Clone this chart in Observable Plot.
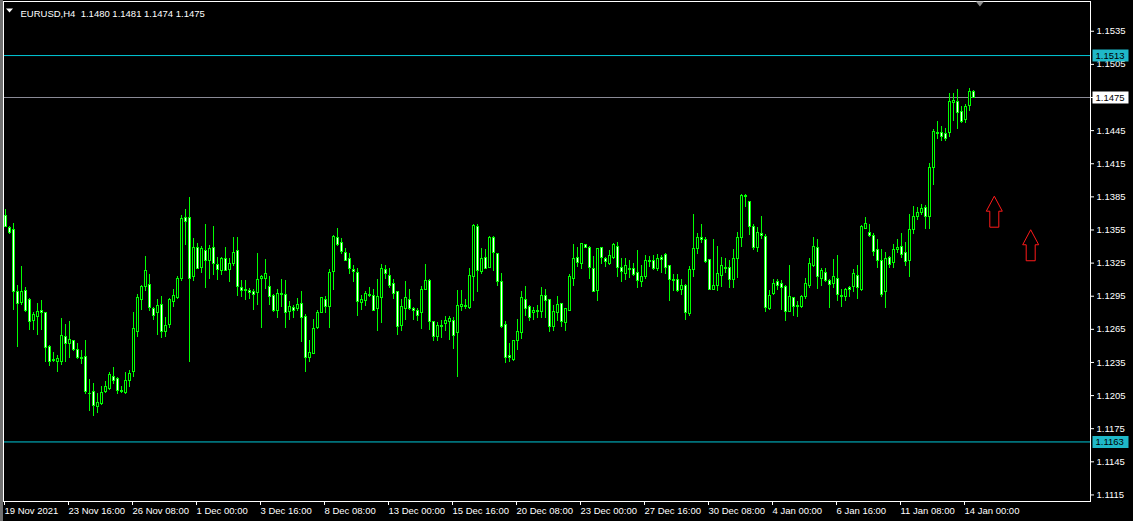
<!DOCTYPE html>
<html><head><meta charset="utf-8">
<script src="https://cdn.jsdelivr.net/npm/d3@7"></script>
<script src="https://cdn.jsdelivr.net/npm/@observablehq/plot@0.6"></script>
<style>html,body{margin:0;padding:0;background:#000;overflow:hidden}</style>
</head><body><div id="chart"></div>
<script>
const instrument = "EURUSD", timeframe = "H4";

const open = [1.1368,1.1357,1.1355,1.1299,1.1289,1.1300,1.1292,1.1273,1.1276,1.1282,
1.1280,1.1249,1.1237,1.1235,1.1235,1.1258,1.1252,1.1254,1.1246,1.1239,
1.1240,1.1207,1.1208,1.1195,1.1197,1.1208,1.1211,1.1222,1.1220,1.1209,
1.1207,1.1218,1.1226,1.1263,1.1292,1.1303,1.1305,1.1283,1.1280,1.1287,
1.1263,1.1269,1.1290,1.1293,1.1311,1.1366,1.1366,1.1312,1.1339,1.1321,
1.1336,1.1327,1.1339,1.1323,1.1318,1.1329,1.1319,1.1324,1.1336,1.1302,
1.1300,1.1300,1.1299,1.1298,1.1311,1.1311,1.1303,1.1295,1.1282,1.1297,
1.1296,1.1281,1.1284,1.1283,1.1288,1.1276,1.1239,1.1243,1.1266,1.1280,
1.1292,1.1285,1.1317,1.1348,1.1343,1.1334,1.1329,1.1319,1.1316,1.1289,
1.1291,1.1295,1.1295,1.1283,1.1293,1.1319,1.1313,1.1306,1.1299,1.1268,
1.1283,1.1292,1.1283,1.1282,1.1280,1.1301,1.1309,1.1272,1.1258,1.1268,
1.1270,1.1272,1.1273,1.1262,1.1285,1.1286,1.1284,1.1312,1.1358,1.1317,
1.1330,1.1321,1.1348,1.1333,1.1308,1.1269,1.1241,1.1237,1.1254,1.1262,
1.1292,1.1285,1.1280,1.1282,1.1281,1.1295,1.1292,1.1267,1.1280,1.1288,
1.1271,1.1282,1.1311,1.1330,1.1324,1.1341,1.1339,1.1320,1.1300,1.1339,
1.1329,1.1324,1.1330,1.1340,1.1321,1.1315,1.1320,1.1320,1.1316,1.1308,
1.1312,1.1326,1.1327,1.1320,1.1330,1.1332,1.1322,1.1310,1.1310,1.1301,
1.1304,1.1279,1.1319,1.1338,1.1348,1.1346,1.1328,1.1301,1.1304,1.1313,
1.1321,1.1321,1.1310,1.1329,1.1348,1.1386,1.1380,1.1358,1.1339,1.1351,
1.1349,1.1283,1.1297,1.1308,1.1306,1.1303,1.1281,1.1293,1.1286,1.1285,
1.1294,1.1304,1.1322,1.1339,1.1311,1.1316,1.1309,1.1306,1.1311,1.1295,
1.1294,1.1302,1.1303,1.1313,1.1301,1.1356,1.1352,1.1350,1.1337,1.1327,
1.1299,1.1330,1.1325,1.1337,1.1340,1.1334,1.1327,1.1355,1.1367,1.1370,
1.1375,1.1367,1.1411,1.1442,1.1443,1.1442,1.1443,1.1470,1.1471,1.1462,
1.1455,1.1467,1.1480];

const high = [1.1374,1.1358,1.1361,1.1305,1.1322,1.1303,1.1293,1.1280,1.1288,1.1291,
1.1280,1.1250,1.1244,1.1241,1.1275,1.1269,1.1272,1.1254,1.1252,1.1246,
1.1255,1.1220,1.1216,1.1207,1.1213,1.1218,1.1226,1.1230,1.1221,1.1213,
1.1226,1.1228,1.1280,1.1297,1.1305,1.1331,1.1315,1.1285,1.1292,1.1295,
1.1276,1.1293,1.1301,1.1313,1.1368,1.1374,1.1384,1.1347,1.1343,1.1340,
1.1360,1.1341,1.1358,1.1330,1.1330,1.1339,1.1329,1.1348,1.1348,1.1309,
1.1309,1.1302,1.1301,1.1334,1.1314,1.1328,1.1313,1.1297,1.1301,1.1310,
1.1309,1.1290,1.1287,1.1293,1.1299,1.1278,1.1255,1.1274,1.1282,1.1294,
1.1295,1.1319,1.1350,1.1356,1.1347,1.1338,1.1334,1.1323,1.1320,1.1296,
1.1299,1.1303,1.1301,1.1310,1.1324,1.1323,1.1320,1.1310,1.1299,1.1292,
1.1308,1.1301,1.1285,1.1284,1.1304,1.1324,1.1310,1.1272,1.1271,1.1273,
1.1277,1.1277,1.1276,1.1300,1.1300,1.1292,1.1320,1.1360,1.1360,1.1338,
1.1337,1.1349,1.1349,1.1334,1.1316,1.1272,1.1252,1.1255,1.1274,1.1299,
1.1304,1.1287,1.1285,1.1287,1.1303,1.1301,1.1292,1.1287,1.1295,1.1288,
1.1284,1.1315,1.1342,1.1339,1.1342,1.1342,1.1340,1.1331,1.1338,1.1339,
1.1330,1.1336,1.1343,1.1344,1.1329,1.1329,1.1327,1.1325,1.1336,1.1323,
1.1332,1.1331,1.1332,1.1333,1.1332,1.1334,1.1323,1.1315,1.1315,1.1310,
1.1306,1.1322,1.1369,1.1352,1.1360,1.1348,1.1328,1.1346,1.1340,1.1330,
1.1329,1.1327,1.1337,1.1353,1.1387,1.1387,1.1381,1.1360,1.1357,1.1367,
1.1351,1.1300,1.1310,1.1310,1.1309,1.1305,1.1323,1.1294,1.1290,1.1296,
1.1311,1.1329,1.1348,1.1346,1.1320,1.1320,1.1310,1.1328,1.1332,1.1301,
1.1302,1.1304,1.1319,1.1323,1.1359,1.1366,1.1360,1.1352,1.1346,1.1337,
1.1335,1.1331,1.1342,1.1346,1.1352,1.1344,1.1369,1.1376,1.1375,1.1378,
1.1377,1.1415,1.1446,1.1453,1.1449,1.1447,1.1479,1.1479,1.1482,1.1467,
1.1469,1.1483,1.1481];

const low = [1.1357,1.1351,1.1282,1.1249,1.1287,1.1280,1.1264,1.1264,1.1259,1.1264,
1.1235,1.1231,1.1235,1.1226,1.1232,1.1235,1.1239,1.1245,1.1238,1.1233,
1.1206,1.1191,1.1186,1.1189,1.1196,1.1207,1.1210,1.1215,1.1206,1.1207,
1.1206,1.1212,1.1221,1.1258,1.1282,1.1299,1.1281,1.1273,1.1259,1.1257,
1.1258,1.1266,1.1285,1.1292,1.1308,1.1341,1.1235,1.1308,1.1319,1.1316,
1.1302,1.1310,1.1314,1.1309,1.1314,1.1317,1.1307,1.1322,1.1295,1.1294,
1.1291,1.1292,1.1282,1.1287,1.1266,1.1301,1.1287,1.1280,1.1275,1.1285,
1.1266,1.1273,1.1275,1.1281,1.1253,1.1226,1.1235,1.1242,1.1265,1.1279,
1.1279,1.1266,1.1300,1.1340,1.1333,1.1326,1.1315,1.1307,1.1277,1.1282,
1.1286,1.1294,1.1281,1.1263,1.1270,1.1310,1.1302,1.1292,1.1259,1.1263,
1.1273,1.1282,1.1273,1.1272,1.1265,1.1300,1.1264,1.1254,1.1254,1.1257,
1.1263,1.1255,1.1247,1.1221,1.1281,1.1283,1.1283,1.1290,1.1298,1.1315,
1.1320,1.1320,1.1317,1.1304,1.1266,1.1234,1.1235,1.1236,1.1246,1.1256,
1.1277,1.1272,1.1273,1.1275,1.1275,1.1275,1.1262,1.1263,1.1272,1.1267,
1.1263,1.1281,1.1304,1.1321,1.1319,1.1338,1.1310,1.1298,1.1290,1.1324,
1.1321,1.1323,1.1328,1.1312,1.1307,1.1309,1.1311,1.1313,1.1302,1.1303,
1.1310,1.1321,1.1318,1.1317,1.1316,1.1315,1.1290,1.1299,1.1298,1.1296,
1.1273,1.1277,1.1312,1.1333,1.1343,1.1325,1.1300,1.1300,1.1299,1.1303,
1.1316,1.1302,1.1302,1.1311,1.1339,1.1375,1.1350,1.1336,1.1335,1.1346,
1.1280,1.1282,1.1296,1.1300,1.1282,1.1272,1.1280,1.1277,1.1276,1.1284,
1.1292,1.1302,1.1321,1.1301,1.1304,1.1307,1.1284,1.1302,1.1290,1.1285,
1.1290,1.1294,1.1298,1.1292,1.1299,1.1355,1.1348,1.1331,1.1320,1.1294,
1.1284,1.1320,1.1320,1.1334,1.1329,1.1322,1.1312,1.1351,1.1364,1.1368,
1.1355,1.1355,1.1395,1.1437,1.1435,1.1435,1.1439,1.1453,1.1446,1.1451,
1.1451,1.1462,1.1474];

const close = [1.1358,1.1352,1.1299,1.1288,1.1299,1.1282,1.1272,1.1278,1.1281,1.1280,
1.1248,1.1235,1.1236,1.1238,1.1259,1.1252,1.1255,1.1246,1.1239,1.1238,
1.1208,1.1207,1.1196,1.1198,1.1207,1.1213,1.1224,1.1218,1.1209,1.1208,
1.1218,1.1225,1.1265,1.1293,1.1303,1.1318,1.1284,1.1277,1.1286,1.1263,
1.1268,1.1292,1.1295,1.1311,1.1365,1.1362,1.1311,1.1339,1.1320,1.1338,
1.1327,1.1338,1.1324,1.1319,1.1329,1.1318,1.1324,1.1334,1.1303,1.1300,
1.1301,1.1298,1.1296,1.1310,1.1312,1.1315,1.1294,1.1282,1.1297,1.1296,
1.1280,1.1285,1.1282,1.1287,1.1275,1.1239,1.1244,1.1265,1.1280,1.1293,
1.1285,1.1316,1.1349,1.1341,1.1335,1.1327,1.1320,1.1317,1.1290,1.1292,
1.1297,1.1296,1.1282,1.1294,1.1320,1.1315,1.1304,1.1297,1.1267,1.1285,
1.1293,1.1283,1.1282,1.1277,1.1301,1.1309,1.1272,1.1258,1.1268,1.1267,
1.1273,1.1274,1.1259,1.1286,1.1287,1.1285,1.1313,1.1359,1.1318,1.1329,
1.1320,1.1348,1.1334,1.1308,1.1267,1.1239,1.1239,1.1254,1.1263,1.1293,
1.1283,1.1275,1.1282,1.1281,1.1295,1.1291,1.1267,1.1281,1.1287,1.1272,
1.1283,1.1312,1.1329,1.1325,1.1342,1.1339,1.1321,1.1299,1.1338,1.1330,
1.1326,1.1331,1.1341,1.1321,1.1317,1.1322,1.1319,1.1314,1.1309,1.1312,
1.1327,1.1327,1.1320,1.1329,1.1328,1.1321,1.1310,1.1309,1.1300,1.1304,
1.1280,1.1319,1.1338,1.1348,1.1346,1.1326,1.1301,1.1304,1.1315,1.1322,
1.1320,1.1310,1.1329,1.1348,1.1386,1.1385,1.1358,1.1339,1.1352,1.1350,
1.1284,1.1295,1.1306,1.1304,1.1302,1.1281,1.1294,1.1285,1.1285,1.1294,
1.1306,1.1324,1.1340,1.1312,1.1318,1.1309,1.1305,1.1312,1.1296,1.1294,
1.1301,1.1301,1.1315,1.1302,1.1358,1.1360,1.1350,1.1335,1.1327,1.1296,
1.1329,1.1323,1.1337,1.1339,1.1332,1.1326,1.1355,1.1367,1.1370,1.1374,
1.1367,1.1411,1.1444,1.1443,1.1439,1.1437,1.1471,1.1472,1.1461,1.1453,
1.1466,1.1480,1.1475];

const tickBars = [0,16,32,48,64,80,96,112,128,144,160,176,192,208,224,240];
const tickLabels = ["19 Nov 2021","23 Nov 16:00","26 Nov 08:00","1 Dec 00:00","3 Dec 16:00",
  "8 Dec 08:00","13 Dec 00:00","15 Dec 16:00","20 Dec 08:00","23 Dec 00:00","27 Dec 16:00",
  "30 Dec 08:00","4 Jan 00:00","6 Jan 16:00","11 Jan 08:00","14 Jan 00:00"];
const priceTicks = [1.1535,1.1505,1.1475,1.1445,1.1415,1.1385,1.1355,1.1325,1.1295,1.1265,1.1235,1.1205,1.1175,1.1145,1.1115];
const levelPrices = [1.1513, 1.1163];
const arrowBars = [247.2, 256.3];
const arrowPrices = [1.13856, 1.13552];
const shiftBar = 243.6;

const bars = open.map((o, i) => ({i, o, h: high[i], l: low[i], c: close[i]}));
const last = bars[bars.length - 1];
const bid = last.c;
const fmt = v => v.toFixed(4);
const title = `${instrument},${timeframe}  ${fmt(last.o)} ${fmt(last.h)} ${fmt(last.l)} ${fmt(last.c)}`;
const arrows = arrowBars.map((b, k) => ({b, p: arrowPrices[k]}));

const LIME = "#00ff00";
const arrowSymbol = {draw(ctx) {
  ctx.moveTo(0, 0); ctx.lineTo(8, 15); ctx.lineTo(4.5, 15); ctx.lineTo(4.5, 31);
  ctx.lineTo(-4.5, 31); ctx.lineTo(-4.5, 15); ctx.lineTo(-8, 15); ctx.closePath();
}};
const boxSymbol = {draw(ctx) { ctx.rect(2, -6, 36, 12); }};
const downTri = {draw(ctx) { ctx.moveTo(-4, 0); ctx.lineTo(4, 0); ctx.lineTo(0, 5); ctx.closePath(); }};
const smallTri = {draw(ctx) { ctx.moveTo(-3.5, 0); ctx.lineTo(3.5, 0); ctx.lineTo(0, 4); ctx.closePath(); }};

const chart = Plot.plot({
  width: 1133, height: 521,
  marginLeft: 3, marginRight: 43, marginTop: 1, marginBottom: 20,
  style: {background: "linear-gradient(to right, #707070 0px, #707070 3px, #000 3px)", color: "#fff",
    fontFamily: "Liberation Sans, Arial, sans-serif", fontSize: "9.5px"},
  x: {domain: [-0.5, 271.25], axis: null},
  y: {domain: [1.110906, 1.156196], axis: null},
  marks: [
    Plot.ruleY(levelPrices, {y: d => d, stroke: "#00c8d8"}),
    Plot.ruleY([bid], {y: d => d, stroke: "#8a8a96"}),
    Plot.ruleX(bars, {x: "i", y1: "l", y2: "h", stroke: LIME, shapeRendering: "crispEdges"}),
    Plot.rect(bars, {x1: d => d.i - 0.25, x2: d => d.i + 0.25, y1: "o", y2: "c",
      fill: d => d.c >= d.o ? "#000" : "#fff", stroke: LIME, shapeRendering: "crispEdges"}),
    Plot.ruleY(bars, {filter: d => Math.abs(d.o - d.c) < 0.00006, y: "o",
      x1: d => d.i - 0.375, x2: d => d.i + 0.375, stroke: LIME, shapeRendering: "crispEdges"}),
    Plot.dot(arrows, {x: "b", y: "p", symbol: arrowSymbol, fill: "none", stroke: "#ff1a1a", strokeWidth: 1}),
    Plot.frame({stroke: "#fff"}),
    Plot.axisY(priceTicks, {anchor: "right", tickSize: 3, tickPadding: 3, tickFormat: fmt, stroke: "#fff", fill: "#fff"}),
    Plot.axisX(tickBars, {anchor: "bottom", tickSize: 4, tickPadding: 2, textAnchor: "start", dx: -1,
      tickFormat: d => tickLabels[tickBars.indexOf(d)], stroke: "#fff", fill: "#fff"}),
    Plot.dot(levelPrices, {y: d => d, frameAnchor: "right", symbol: boxSymbol, fill: "#1fb8c8", stroke: "none"}),
    Plot.dot([bid], {y: d => d, frameAnchor: "right", symbol: boxSymbol, fill: "#ffffff", stroke: "none"}),
    Plot.text(levelPrices.concat([bid]), {y: d => d, frameAnchor: "right", dx: 5, textAnchor: "start", text: fmt, fill: "#000"}),
    Plot.dot([shiftBar], {x: d => d, frameAnchor: "top", symbol: downTri, fill: "#8c8c8c", stroke: "none"}),
    Plot.dot([title], {frameAnchor: "top-left", dx: 6, dy: 7, symbol: smallTri, fill: "#fff", stroke: "none"}),
    Plot.text([title], {frameAnchor: "top-left", dx: 17, dy: 9, textAnchor: "start", text: d => d, fill: "#fff"})
  ]
});
document.getElementById("chart").appendChild(chart);
</script>
</body></html>
